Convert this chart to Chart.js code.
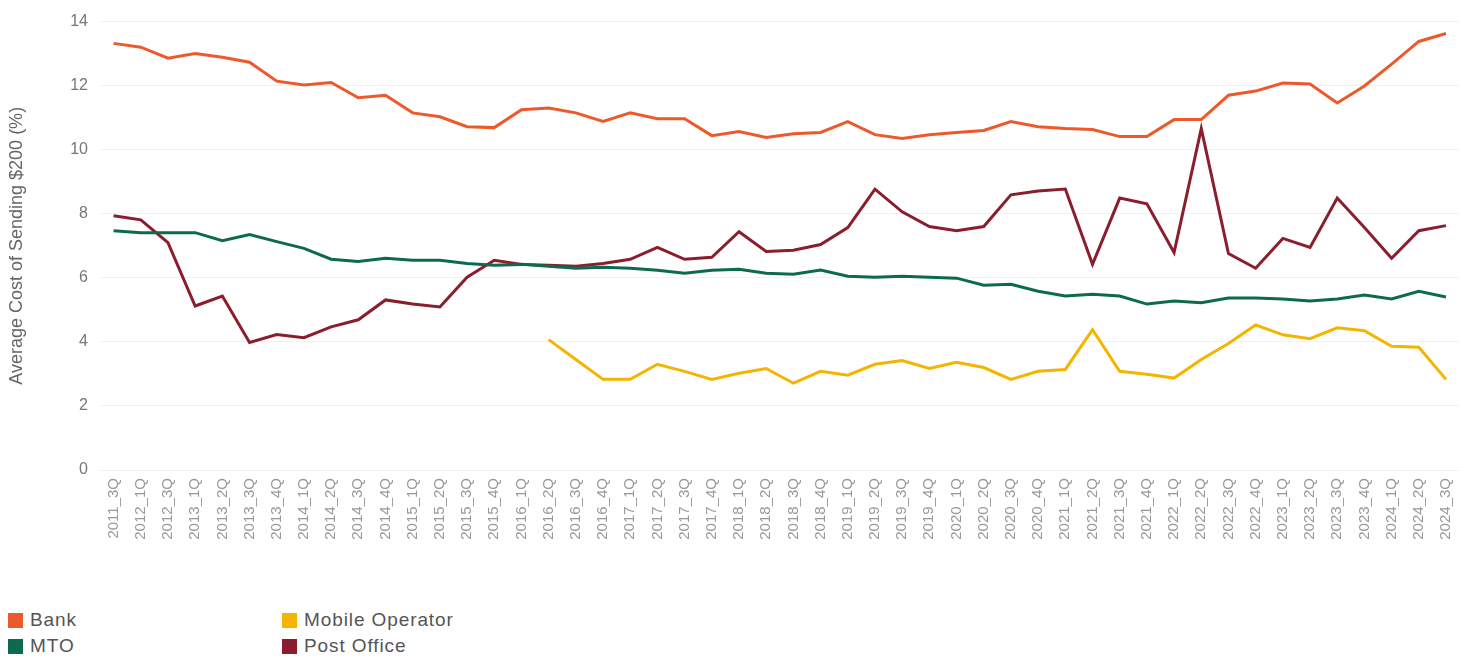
<!DOCTYPE html>
<html>
<head>
<meta charset="utf-8">
<script src="https://cdn.jsdelivr.net/npm/chart.js@4"></script>
<style>
  body { margin: 0; background: #fff; font-family: "Liberation Sans", Arial, sans-serif; }
  #wrap { position: relative; width: 1464px; height: 550px; }
  #legend { display: grid; grid-template-columns: 274px 300px; row-gap: 4px; margin: 59px 0 0 8px; }
  .item { display: flex; align-items: center; font-size: 19px; letter-spacing: 0.9px; color: #555; height: 22px; }
  .box { width: 15px; height: 15px; margin-right: 7px; }
</style>
</head>
<body>
<div id="wrap"><canvas id="chart"></canvas></div>
<div id="legend"></div>
<script>
// quarters along the x axis
const quarters = ['2011_3Q', '2012_1Q', '2012_3Q', '2013_1Q', '2013_2Q', '2013_3Q', '2013_4Q',
  '2014_1Q', '2014_2Q', '2014_3Q', '2014_4Q', '2015_1Q', '2015_2Q', '2015_3Q', '2015_4Q',
  '2016_1Q', '2016_2Q', '2016_3Q', '2016_4Q', '2017_1Q', '2017_2Q', '2017_3Q', '2017_4Q',
  '2018_1Q', '2018_2Q', '2018_3Q', '2018_4Q', '2019_1Q', '2019_2Q', '2019_3Q', '2019_4Q',
  '2020_1Q', '2020_2Q', '2020_3Q', '2020_4Q', '2021_1Q', '2021_2Q', '2021_3Q', '2021_4Q',
  '2022_1Q', '2022_2Q', '2022_3Q', '2022_4Q', '2023_1Q', '2023_2Q', '2023_3Q', '2023_4Q',
  '2024_1Q', '2024_2Q', '2024_3Q'];

const bank = [13.32, 13.2, 12.86, 13.0, 12.89, 12.73, 12.14, 12.02, 12.1, 11.62,
  11.7, 11.15, 11.03, 10.72, 10.69, 11.25, 11.3, 11.15, 10.88, 11.15,
  10.97, 10.97, 10.44, 10.57, 10.38, 10.5, 10.54, 10.88, 10.47, 10.35,
  10.47, 10.54, 10.6, 10.88, 10.72, 10.66, 10.63, 10.41, 10.41, 10.94,
  10.94, 11.7, 11.83, 12.08, 12.05, 11.46, 11.99, 12.67, 13.38, 13.63];

const mto = [7.47, 7.41, 7.41, 7.41, 7.16, 7.35, 7.13, 6.92, 6.58, 6.51,
  6.61, 6.55, 6.55, 6.45, 6.39, 6.42, 6.36, 6.3, 6.33, 6.3,
  6.24, 6.14, 6.24, 6.27, 6.14, 6.11, 6.24, 6.05, 6.02, 6.05,
  6.02, 5.99, 5.77, 5.8, 5.58, 5.43, 5.49, 5.43, 5.18, 5.28,
  5.22, 5.37, 5.37, 5.34, 5.28, 5.34, 5.46, 5.34, 5.58, 5.4];

const mobile = [null, null, null, null, null, null, null, null, null, null,
  null, null, null, null, null, null, 4.07, 3.45, 2.83, 2.83,
  3.3, 3.08, 2.83, 3.02, 3.17, 2.71, 3.08, 2.96, 3.3, 3.42,
  3.17, 3.36, 3.2, 2.83, 3.08, 3.14, 4.38, 3.08, 2.99, 2.87,
  3.45, 3.95, 4.53, 4.22, 4.1, 4.44, 4.35, 3.86, 3.83, 2.83];

const postOffice = [7.94, 7.81, 7.1, 5.12, 5.43, 3.98, 4.23, 4.13, 4.47, 4.69,
  5.31, 5.18, 5.09, 6.02, 6.55, 6.42, 6.39, 6.36, 6.45, 6.58,
  6.95, 6.58, 6.64, 7.44, 6.82, 6.86, 7.04, 7.57, 8.77, 8.06,
  7.6, 7.47, 7.6, 8.59, 8.71, 8.77, 6.42, 8.49, 8.31, 6.79,
  10.66, 6.76, 6.3, 7.23, 6.95, 8.49, 7.57, 6.61, 7.47, 7.63];

const seriesNames = ['Bank', 'MTO', 'Mobile Operator', 'Post Office'];
const seriesColors = ['#ec5a2c', '#0c6a4e', '#f5b400', '#8b1e2c'];
const yTicks = [0, 2, 4, 6, 8, 10, 12, 14];

const font = 'Liberation Sans, Arial, sans-serif';

const chart = new Chart(document.getElementById('chart'), {
  type: 'line',
  data: {
    labels: quarters,
    datasets: [bank, mto, mobile, postOffice].map((d, i) => ({
      label: seriesNames[i],
      data: d,
      borderColor: seriesColors[i],
      backgroundColor: seriesColors[i],
      borderWidth: 3,
      pointRadius: 0,
      tension: 0,
      spanGaps: false
    }))
  },
  options: {
    responsive: true,
    maintainAspectRatio: false,
    animation: false,
    layout: { padding: { top: 14, right: 0, left: 6, bottom: 0 } },
    plugins: {
      legend: { display: false },
      tooltip: { enabled: false }
    },
    scales: {
      x: {
        offset: true,
        afterFit: s => { s.height = 80; },
        grid: { display: false },
        border: { display: false },
        ticks: {
          color: '#999',
          font: { family: font, size: 15 },
          minRotation: 90,
          maxRotation: 90,
          autoSkip: false,
          padding: 0
        }
      },
      y: {
        min: 0,
        max: 14,
        afterBuildTicks: s => { s.ticks = yTicks.map(v => ({ value: v })); },
        afterFit: s => { s.width = 94; },
        grid: { color: '#f1f1f1', drawTicks: false },
        border: { display: false },
        ticks: {
          color: '#777',
          font: { family: font, size: 16 },
          padding: 12
        },
        title: {
          display: true,
          text: 'Average Cost of Sending $200 (%)',
          color: '#666',
          font: { family: font, size: 18 },
          padding: { top: 0, bottom: 0 }
        }
      }
    }
  }
});

// legend as two columns under the chart
const legend = document.getElementById('legend');
[0, 2, 1, 3].forEach(i => {
  const ds = chart.data.datasets[i];
  const el = document.createElement('div');
  el.className = 'item';
  el.innerHTML = '<span class="box" style="background:' + ds.borderColor + '"></span>' + ds.label;
  legend.appendChild(el);
});
</script>
</body>
</html>
